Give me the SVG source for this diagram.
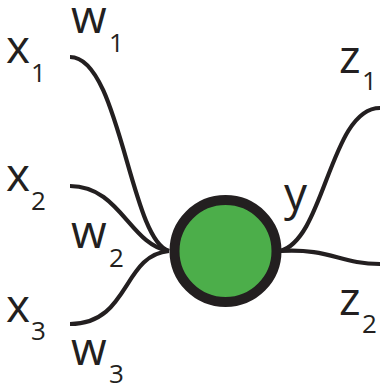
<svg xmlns="http://www.w3.org/2000/svg" width="380" height="387" viewBox="0 0 380 387">
<style>
.c{fill:none;stroke:#231f20;stroke-width:4.2;stroke-linecap:butt}
.t{font-family:"Open Sans","DejaVu Sans",sans-serif;fill:#231f20}
.b{font-size:46px}
.s{font-size:26px}
</style>
<rect width="380" height="387" fill="#fff"/>
<g id="connectors">
<path class="c" d="M70,57 C120,57 130,240 169,251"/>
<path class="c" d="M70,186 C120,186 130,245 169,251"/>
<path class="c" d="M70,324 C130,324 122,255 169,251"/>
<path class="c" d="M280,251 C325,240 330,108 380,108"/>
<path class="c" d="M280,251 C330,248 340,264 380,264"/>
</g>
<g id="neuron">
<circle cx="225.5" cy="251" r="51" fill="#4cae4a" stroke="#231f20" stroke-width="10"/>
</g>
<g id="x1" class="t"><text class="b" x="6" y="63">x</text><text class="s" x="31" y="82">1</text></g>
<g id="x2" class="t"><text class="b" x="6" y="191">x</text><text class="s" x="31" y="210">2</text></g>
<g id="x3" class="t"><text class="b" x="6" y="322">x</text><text class="s" x="31" y="340">3</text></g>
<g id="w1" class="t"><text class="b" x="71" y="33">w</text><text class="s" x="109" y="52">1</text></g>
<g id="w2" class="t"><text class="b" x="71" y="248">w</text><text class="s" x="109" y="267">2</text></g>
<g id="w3" class="t"><text class="b" x="71" y="365">w</text><text class="s" x="109" y="383">3</text></g>
<g id="y" class="t"><text class="b" x="284" y="210">y</text></g>
<g id="z1" class="t"><text class="b" x="339" y="73">z</text><text class="s" x="362" y="90">1</text></g>
<g id="z2" class="t"><text class="b" x="339" y="315">z</text><text class="s" x="362" y="333">2</text></g>
</svg>
